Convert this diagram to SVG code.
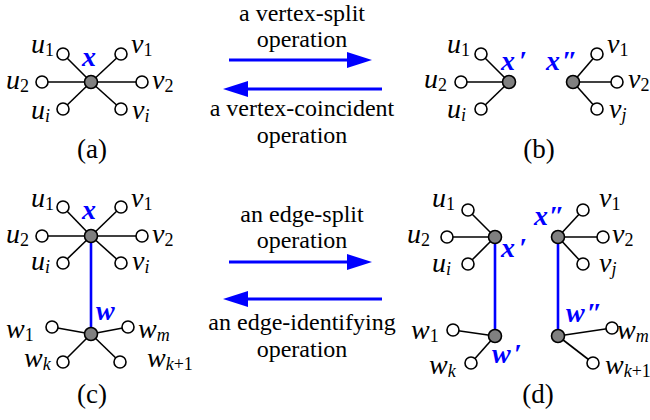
<svg xmlns="http://www.w3.org/2000/svg" width="650" height="420" viewBox="0 0 650 420" font-family="'Liberation Serif', serif">
<defs>
<marker id="ah" viewBox="0 0 25 16" refX="0" refY="8" markerWidth="25" markerHeight="16" markerUnits="userSpaceOnUse" orient="auto">
<path d="M0,0 L25,8 L0,16 z" fill="#0000ff"/>
</marker>
</defs>

<g id="connectors" stroke="#000" stroke-width="1.6" fill="none">
<line x1="91" y1="82" x2="63" y2="54"/>
<line x1="91" y1="82" x2="42" y2="82"/>
<line x1="91" y1="82" x2="63" y2="109"/>
<line x1="91" y1="82" x2="121" y2="54"/>
<line x1="91" y1="82" x2="142" y2="82"/>
<line x1="91" y1="82" x2="121" y2="109"/>
<line x1="509" y1="82" x2="481" y2="54"/>
<line x1="509" y1="82" x2="461" y2="82"/>
<line x1="509" y1="82" x2="481" y2="109"/>
<line x1="573" y1="82" x2="597" y2="54"/>
<line x1="573" y1="82" x2="617" y2="82"/>
<line x1="573" y1="82" x2="597" y2="109"/>
<line x1="91" y1="236" x2="63" y2="207"/>
<line x1="91" y1="236" x2="42" y2="236"/>
<line x1="91" y1="236" x2="63" y2="263"/>
<line x1="91" y1="236" x2="121" y2="207"/>
<line x1="91" y1="236" x2="142" y2="236"/>
<line x1="91" y1="236" x2="121" y2="263"/>
<line x1="91" y1="334" x2="52" y2="327"/>
<line x1="91" y1="334" x2="128" y2="327"/>
<line x1="91" y1="334" x2="63" y2="362"/>
<line x1="91" y1="334" x2="120" y2="362"/>
<line x1="495" y1="237" x2="468" y2="210"/>
<line x1="495" y1="237" x2="447" y2="237"/>
<line x1="495" y1="237" x2="468" y2="264"/>
<line x1="558" y1="237" x2="583" y2="210"/>
<line x1="558" y1="237" x2="603" y2="237"/>
<line x1="558" y1="237" x2="583" y2="264"/>
<line x1="495" y1="336" x2="453" y2="330"/>
<line x1="495" y1="336" x2="471" y2="363"/>
<line x1="558" y1="336" x2="612" y2="328"/>
<line x1="558" y1="336" x2="593" y2="363"/>
<g stroke="#0000ff" stroke-width="2.6">
<line x1="91" y1="236" x2="91" y2="334"/>
<line x1="495" y1="237" x2="495" y2="336"/>
<line x1="558" y1="237" x2="558" y2="336"/>
</g>
<g stroke="#0000ff" stroke-width="3">
<line x1="229" y1="60" x2="347" y2="60" marker-end="url(#ah)"/>
<line x1="382" y1="89" x2="248" y2="89" marker-end="url(#ah)"/>
<line x1="229" y1="262" x2="347" y2="262" marker-end="url(#ah)"/>
<line x1="382" y1="299" x2="248" y2="299" marker-end="url(#ah)"/>
</g>
</g>

<g id="op-texts" font-family="'Liberation Serif', serif" font-size="24" text-anchor="middle" fill="#000">
<text x="302" y="21">a vertex-split</text>
<text x="302" y="47">operation</text>
<text x="302" y="116">a vertex-coincident</text>
<text x="302" y="143">operation</text>
<text x="302" y="222">an edge-split</text>
<text x="302" y="248">operation</text>
<text x="302" y="330">an edge-identifying</text>
<text x="302" y="357">operation</text>
</g>

<g id="hubs" fill="#808080" stroke="#000" stroke-width="1.6">
<circle cx="91" cy="82" r="6.5"/>
<circle cx="509" cy="82" r="6.5"/>
<circle cx="573" cy="82" r="6.5"/>
<circle cx="91" cy="236" r="6.5"/>
<circle cx="91" cy="334" r="6.5"/>
<circle cx="495" cy="237" r="6.5"/>
<circle cx="558" cy="237" r="6.5"/>
<circle cx="495" cy="336" r="6.5"/>
<circle cx="558" cy="336" r="6.5"/>
</g>

<g id="hub-labels" font-family="'Liberation Serif', serif" font-size="28" font-style="italic" font-weight="bold" fill="#0000ff">
<text id="a-x" x="82" y="66">x</text>
<text id="b-x1" x="501" y="70">x<tspan dx="4">′</tspan></text>
<text id="b-x2" x="546" y="70">x<tspan dx="2">″</tspan></text>
<text id="c-x" x="82" y="219">x</text>
<text id="c-w" x="96" y="320">w</text>
<text id="d-x1" x="501" y="257">x<tspan dx="4">′</tspan></text>
<text id="d-x2" x="534" y="225">x<tspan dx="1">″</tspan></text>
<text id="d-w1n" x="492" y="363">w<tspan dx="3">′</tspan></text>
<text id="d-w2n" x="566" y="322">w<tspan dx="2">″</tspan></text>
</g>

<g id="leaves" fill="#fff" stroke="#000" stroke-width="1.6">
<circle cx="63" cy="54" r="6"/><circle cx="42" cy="82" r="6"/><circle cx="63" cy="109" r="6"/>
<circle cx="121" cy="54" r="6"/><circle cx="142" cy="82" r="6"/><circle cx="121" cy="109" r="6"/>
<circle cx="481" cy="54" r="6"/><circle cx="461" cy="82" r="6"/><circle cx="481" cy="109" r="6"/>
<circle cx="597" cy="54" r="6"/><circle cx="617" cy="82" r="6"/><circle cx="597" cy="109" r="6"/>
<circle cx="63" cy="207" r="6"/><circle cx="42" cy="236" r="6"/><circle cx="63" cy="263" r="6"/>
<circle cx="121" cy="207" r="6"/><circle cx="142" cy="236" r="6"/><circle cx="121" cy="263" r="6"/>
<circle cx="52" cy="327" r="6"/><circle cx="128" cy="327" r="6"/><circle cx="63" cy="362" r="6"/><circle cx="120" cy="362" r="6"/>
<circle cx="468" cy="210" r="6"/><circle cx="447" cy="237" r="6"/><circle cx="468" cy="264" r="6"/>
<circle cx="583" cy="210" r="6"/><circle cx="603" cy="237" r="6"/><circle cx="583" cy="264" r="6"/>
<circle cx="453" cy="330" r="6"/><circle cx="471" cy="363" r="6"/><circle cx="612" cy="328" r="6"/><circle cx="593" cy="363" r="6"/>
</g>

<g id="leaf-labels" font-family="'Liberation Serif', serif" font-size="28" font-style="italic" fill="#000">
<text x="31" y="53">u<tspan font-size="18" font-style="normal" dy="3">1</tspan></text>
<text x="6" y="89">u<tspan font-size="18" font-style="normal" dy="3">2</tspan></text>
<text x="31" y="119">u<tspan font-size="18" dy="3">i</tspan></text>
<text x="131" y="53">v<tspan font-size="18" font-style="normal" dy="3">1</tspan></text>
<text x="152" y="89">v<tspan font-size="18" font-style="normal" dy="3">2</tspan></text>
<text x="132" y="119">v<tspan font-size="18" dy="3">i</tspan></text>
<text x="447" y="53">u<tspan font-size="18" font-style="normal" dy="3">1</tspan></text>
<text x="424" y="88">u<tspan font-size="18" font-style="normal" dy="3">2</tspan></text>
<text x="447" y="118">u<tspan font-size="18" dy="3">i</tspan></text>
<text x="607" y="53">v<tspan font-size="18" font-style="normal" dy="3">1</tspan></text>
<text x="628" y="88">v<tspan font-size="18" font-style="normal" dy="3">2</tspan></text>
<text x="609" y="118">v<tspan font-size="18" dy="3">j</tspan></text>
<text x="31" y="207">u<tspan font-size="18" font-style="normal" dy="3">1</tspan></text>
<text x="6" y="243">u<tspan font-size="18" font-style="normal" dy="3">2</tspan></text>
<text x="31" y="270">u<tspan font-size="18" dy="3">i</tspan></text>
<text x="131" y="207">v<tspan font-size="18" font-style="normal" dy="3">1</tspan></text>
<text x="152" y="243">v<tspan font-size="18" font-style="normal" dy="3">2</tspan></text>
<text x="132" y="270">v<tspan font-size="18" dy="3">i</tspan></text>
<text x="6" y="338">w<tspan font-size="18" font-style="normal" dy="3">1</tspan></text>
<text x="138" y="338">w<tspan font-size="18" dy="3">m</tspan></text>
<text x="24" y="367">w<tspan font-size="18" dy="3">k</tspan></text>
<text x="147" y="367">w<tspan font-size="18" dy="3">k</tspan><tspan font-size="18" font-style="normal">+1</tspan></text>
<text x="432" y="207">u<tspan font-size="18" font-style="normal" dy="3">1</tspan></text>
<text x="407" y="243">u<tspan font-size="18" font-style="normal" dy="3">2</tspan></text>
<text x="432" y="272">u<tspan font-size="18" dy="3">i</tspan></text>
<text x="599" y="207">v<tspan font-size="18" font-style="normal" dy="3">1</tspan></text>
<text x="612" y="243">v<tspan font-size="18" font-style="normal" dy="3">2</tspan></text>
<text x="599" y="272">v<tspan font-size="18" dy="3">j</tspan></text>
<text x="411" y="339">w<tspan font-size="18" font-style="normal" dy="3">1</tspan></text>
<text x="429" y="374">w<tspan font-size="18" dy="3">k</tspan></text>
<text x="617" y="339">w<tspan font-size="18" dy="3">m</tspan></text>
<text x="605" y="374">w<tspan font-size="18" dy="3">k</tspan><tspan font-size="18" font-style="normal">+1</tspan></text>
</g>

<g id="captions" font-family="'Liberation Serif', serif" font-size="27" text-anchor="middle" fill="#000">
<text x="92" y="158">(a)</text>
<text x="539" y="158">(b)</text>
<text x="92" y="403">(c)</text>
<text x="538" y="403">(d)</text>
</g>
</svg>
